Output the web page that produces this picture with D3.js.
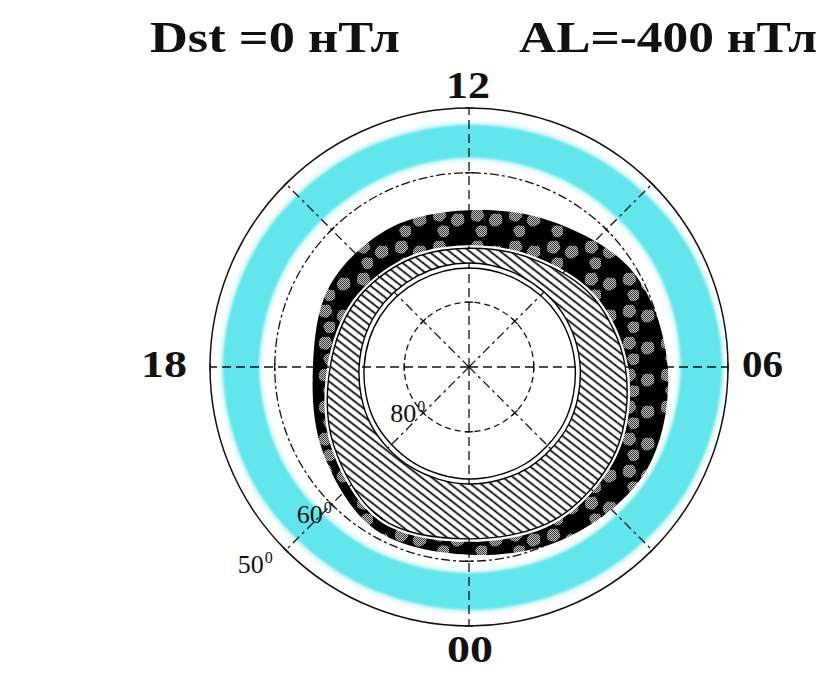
<!DOCTYPE html>
<html><head><meta charset="utf-8">
<script src="https://cdn.jsdelivr.net/npm/d3@7/dist/d3.min.js"></script>
<style>html,body{margin:0;padding:0;background:#fff}svg{display:block}</style>
</head><body>
<svg id="chart" width="823" height="678"></svg>
<script>
// ---------- DATA ----------
const titleLeft = "Dst =0 нТл";
const titleRight = "AL=-400 нТл";
const mltHours = [0, 2, 4, 6, 8, 10, 12, 14, 16, 18, 20, 22];
// boundaries (geomagnetic latitude, deg) vs MLT
const auroralOuterLat = [61.0, 59.6, 58.3, 59.3, 60.7, 64.1, 65.8, 65.3, 65.1, 65.9, 63.9, 61.0];
const auroralInnerLat = [63.0, 62.5, 63.4, 65.4, 67.6, 70.2, 71.2, 70.5, 69.3, 68.1, 65.4, 62.5];
const capLat = [72.7, 72.7, 73.0, 73.6, 74.1, 74.6, 74.7, 74.6, 74.2, 73.8, 73.2, 72.9];
const cyanOuterLat = [52.5, 52.2, 51.4, 50.9, 51.4, 52.2, 52.6, 52.6, 52.3, 52.0, 52.2, 52.5];
const cyanInnerLat = [58.2, 57.9, 57.4, 57.3, 57.3, 57.6, 57.7, 57.9, 57.7, 57.6, 57.7, 58.0];
const gridLats = [60, 80];
const radialHours = [0, 3, 6, 9, 12, 15, 18, 21];
const hourLabels = ["00", "06", "12", "18"];
const hourLabelValues = [0, 6, 12, 18];
const latLabelValues = [80, 60, 50];

// ---------- LAYOUT ----------
const cx = 469, cy = 367, R = 259;
const svg = d3.select("#chart");
const rScale = d3.scaleLinear().domain([90, 50]).range([0, R]);
const ang = h => (12 - h) * Math.PI / 12;
const pt = (h, rr) => [cx + rr * Math.sin(ang(h)), cy - rr * Math.cos(ang(h))];

const defs = svg.append("defs");
// mottled gray
const chk = defs.append("pattern").attr("id", "checker").attr("patternUnits", "userSpaceOnUse")
  .attr("width", 2).attr("height", 2);
chk.append("rect").attr("width", 2).attr("height", 2).attr("fill", "#c0c0c0");
chk.append("rect").attr("width", 1).attr("height", 1).attr("fill", "#3a3a3a");
chk.append("rect").attr("x", 1).attr("y", 1).attr("width", 1).attr("height", 1).attr("fill", "#3a3a3a");
// blobs on black
const bl = defs.append("pattern").attr("id", "blobs").attr("patternUnits", "userSpaceOnUse")
  .attr("width", 38).attr("height", 32);
bl.append("rect").attr("width", 38).attr("height", 32).attr("fill", "#000");
bl.append("path").attr("d", "M2,7 Q3,1 9,2 Q13,0 14,5 Q17,9 13,12 Q11,16 6,14 Q1,13 2,7Z").attr("fill", "url(#checker)");
bl.append("path").attr("d", "M21,10 Q23,5 28,7 Q33,6 33,11 Q35,16 30,18 Q26,21 22,18 Q18,14 21,10Z").attr("fill", "url(#checker)");
bl.append("path").attr("d", "M7,21 Q10,17 14,19 Q18,18 18,23 Q19,29 14,30 Q9,31 8,27 Q5,24 7,21Z").attr("fill", "url(#checker)");
// hatch
const ht = defs.append("pattern").attr("id", "hatch").attr("patternUnits", "userSpaceOnUse")
  .attr("width", 6.3).attr("height", 6.3).attr("patternTransform", "rotate(38)");
ht.append("rect").attr("width", 6.3).attr("height", 6.3).attr("fill", "#fff");
ht.append("line").attr("x1", 0).attr("x2", 6.3).attr("y1", 3).attr("y2", 3)
  .attr("stroke", "#000").attr("stroke-width", 1.7);
// soft edge
const fl = defs.append("filter").attr("id", "soft").attr("x", "-10%").attr("y", "-10%")
  .attr("width", "120%").attr("height", "120%");
fl.append("feGaussianBlur").attr("stdDeviation", 0.9);
const fl2 = defs.append("filter").attr("id", "halo").attr("x", "-10%").attr("y", "-10%")
  .attr("width", "120%").attr("height", "120%");
fl2.append("feGaussianBlur").attr("stdDeviation", 2);

const g = svg.append("g");

const radial = (lats, off = 0) => d3.lineRadial()
  .angle((d, i) => ang(mltHours[i]))
  .radius(d => rScale(d) + off)
  .curve(d3.curveCatmullRomClosed)(lats);
const ring = (outer, inner, oo = 0, io = 0) => radial(outer, oo) + radial(inner, io);
const C = `translate(${cx},${cy})`;

// cyan band
g.append("path").attr("transform", C).attr("d", ring(cyanOuterLat, cyanInnerLat, 3, -3))
  .attr("fill", "#d2f7f8").attr("fill-rule", "evenodd").attr("filter", "url(#halo)");
g.append("path").attr("transform", C).attr("d", ring(cyanOuterLat, cyanInnerLat))
  .attr("fill", "#62e6ec").attr("fill-rule", "evenodd").attr("filter", "url(#soft)");

// grid
g.append("circle").attr("cx", cx).attr("cy", cy).attr("r", rScale(50))
  .attr("fill", "none").attr("stroke", "#111").attr("stroke-width", 1.5);
gridLats.forEach(l => {
  g.append("circle").attr("cx", cx).attr("cy", cy).attr("r", rScale(l))
    .attr("fill", "none").attr("stroke", "#111").attr("stroke-width", 1.3)
    .attr("stroke-dasharray", l === 60 ? "9,3,3,3" : "6,4");
});
radialHours.forEach(h => {
  const main = h % 6 === 0;
  const p = pt(h, rScale(50));
  g.append("line").attr("x1", cx).attr("y1", cy).attr("x2", p[0]).attr("y2", p[1])
    .attr("stroke", "#111").attr("stroke-width", 1.3)
    .attr("stroke-dasharray", main ? "9,5" : "9,4,3,4");
  gridLats.concat([50]).forEach(l => {
    const q = pt(h, rScale(l)), a = ang(h);
    const tx = Math.cos(a) * 4, ty = Math.sin(a) * 4;
    g.append("line").attr("x1", q[0] - tx).attr("y1", q[1] - ty).attr("x2", q[0] + tx).attr("y2", q[1] + ty)
      .attr("stroke", "#111").attr("stroke-width", 1.3);
  });
});

// dark auroral band
g.append("path").attr("transform", C).attr("d", ring(auroralOuterLat, auroralInnerLat))
  .attr("fill", "url(#blobs)").attr("fill-rule", "evenodd");
// hatched band
g.append("path").attr("transform", C).attr("d", ring(auroralInnerLat, capLat, -3, 5))
  .attr("fill", "url(#hatch)").attr("fill-rule", "evenodd")
  .attr("stroke", "#000").attr("stroke-width", 1.4);
// cap outline
g.append("path").attr("transform", C).attr("d", radial(capLat))
  .attr("fill", "none").attr("stroke", "#000").attr("stroke-width", 1.4);

// labels
const serif = "'Liberation Serif','Times New Roman',serif";
svg.append("text").attr("x", 150).attr("y", 52).text(titleLeft)
  .attr("textLength", 250).attr("lengthAdjust", "spacingAndGlyphs")
  .attr("font-family", serif).attr("font-weight", "bold").attr("font-size", 45).attr("fill", "#111");
svg.append("text").attr("x", 519).attr("y", 52).text(titleRight)
  .attr("textLength", 298).attr("lengthAdjust", "spacingAndGlyphs")
  .attr("font-family", serif).attr("font-weight", "bold").attr("font-size", 45).attr("fill", "#111");

// [x, baseline, width]
const hourPos = {0: [447, 662, 46], 6: [742, 377, 41], 12: [446, 98, 44], 18: [141, 377, 46]};
hourLabelValues.forEach((h, i) => {
  const o = hourPos[h];
  svg.append("text").attr("x", o[0]).attr("y", o[1]).text(hourLabels[i])
    .attr("textLength", o[2]).attr("lengthAdjust", "spacingAndGlyphs")
    .attr("font-family", serif).attr("font-weight", "bold").attr("font-size", 37).attr("fill", "#111");
});

const latOff = {80: [-33, 9], 60: [-35, 19], 50: [-48, 23]};
latLabelValues.forEach(l => {
  const p = pt(21, rScale(l));
  const t = svg.append("text").attr("x", p[0] + latOff[l][0]).attr("y", p[1] + latOff[l][1])
    .attr("font-family", serif).attr("font-size", 26).attr("fill", "#111");
  t.append("tspan").text(String(l));
  t.append("tspan").attr("dx", 1).attr("dy", -10).attr("font-size", 16).text("0");
});
</script>
</body></html>
